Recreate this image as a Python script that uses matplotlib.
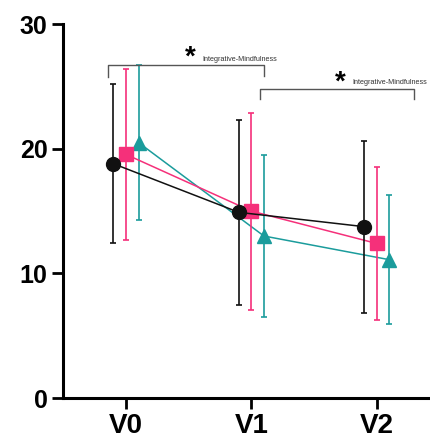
import matplotlib
matplotlib.use("Agg")
import matplotlib.pyplot as plt
import numpy as np

plt.rcParams['font.family'] = ['Liberation Sans', 'DejaVu Sans']

visits = ["V0", "V1", "V2"]
black_mean = [18.8, 14.9, 13.75]
black_sd = [6.4, 7.4, 6.9]
pink_mean = [19.55, 15.0, 12.4]
pink_sd = [6.85, 7.9, 6.15]
teal_mean = [20.5, 13.0, 11.1]
teal_sd = [6.2, 6.5, 5.2]
yticks = [0, 10, 20, 30]

fig = plt.figure(figsize=(4.30, 4.48), dpi=100)
ax = fig.add_axes([0.1465, 0.1116, 1.0 - 0.1465, 0.946 - 0.1116])

x = np.arange(len(visits))
series = [
    (teal_mean, teal_sd, "#1b9c9c", "^", 0.1, 1, 10),
    (pink_mean, pink_sd, "#f5307a", "s", 0.0, 2, 10),
    (black_mean, black_sd, "#111111", "o", -0.1, 3, 10),
]
for m, s, c, mk, off, z, ms in series:
    ax.errorbar(x + off, m, yerr=s, color=c, marker=mk, markersize=ms,
                linewidth=1.1, elinewidth=1.2, capsize=2.2, capthick=1.2, zorder=z)

ax.set_xlim(-0.502, 2.424)
ax.set_ylim(0, 30)
ax.set_xticks(x)
ax.set_xticklabels(visits)
ax.set_yticks(yticks)
for sp in ["top", "right"]:
    ax.spines[sp].set_visible(False)
for sp in ["left", "bottom"]:
    ax.spines[sp].set_linewidth(2.2)
ax.tick_params(axis="both", width=2.0, length=8)
ax.tick_params(axis="y", pad=3, labelsize=18)
ax.tick_params(axis="x", pad=3, labelsize=20)
for lab in ax.get_xticklabels() + ax.get_yticklabels():
    lab.set_fontweight("bold")

# significance brackets
gray = "#555555"
ax.plot([-0.143, -0.143, 1.10, 1.10], [25.8, 26.7, 26.7, 25.85], color=gray, lw=1.0, clip_on=False)
ax.plot([1.07, 1.07, 2.295, 2.295], [24.0, 24.8, 24.8, 24.0], color=gray, lw=1.0, clip_on=False)
ax.text(0.51, 27.3, "*", fontsize=20, fontweight="bold", ha="center", va="center")
ax.text(0.606, 27.2, "Integrative-Mindfulness", fontsize=5.2, ha="left", va="center", color="#333333")
ax.text(1.705, 25.3, "*", fontsize=20, fontweight="bold", ha="center", va="center")
ax.text(1.805, 25.3, "Integrative-Mindfulness", fontsize=5.2, ha="left", va="center", color="#333333")

fig.savefig("out.png", dpi=100)
